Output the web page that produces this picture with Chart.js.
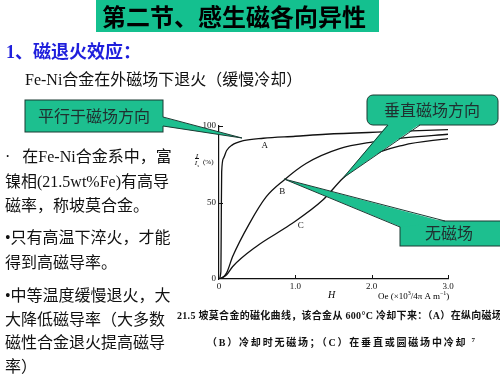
<!DOCTYPE html>
<html>
<head>
<meta charset="utf-8">
<script src="https://cdn.jsdelivr.net/npm/chart.js@4.4.0/dist/chart.umd.min.js"></script>
<style>
  body { margin:0; background:#fff; width:500px; height:375px; overflow:hidden; position:relative;
         font-family:"Liberation Serif","Noto Sans CJK SC",serif; }
  #chart { position:absolute; left:0; top:0; }
  .t { position:absolute; white-space:nowrap; line-height:1; }
  .body { font-size:16px; color:#111; }
  .cap { font-size:10px; font-weight:bold; color:#111; }
  svg { position:absolute; left:0; top:0; }
</style>
</head>
<body>
<canvas id="chart" width="500" height="375"></canvas>

<div class="t" style="left:96px;top:0;width:283px;height:32px;background:#14c08f"></div>
<div class="t" style="left:102px;top:4px;font-size:24px;font-weight:bold;font-family:'Noto Sans CJK SC';color:#000">第二节、感生磁各向异性</div>
<div class="t" style="left:6px;top:43px;font-size:18px;font-weight:bold;color:#1f1fdc">1、磁退火效应：</div>
<div class="t body" style="left:25px;top:72px">Fe-Ni合金在外磁场下退火（缓慢冷却）</div>

<div class="t body" style="left:5px;top:149px">·&nbsp;&nbsp;&nbsp;在Fe-Ni合金系中，富</div>
<div class="t body" style="left:5px;top:174px">镍相(21.5wt%Fe)有高导</div>
<div class="t body" style="left:5px;top:198px">磁率，称坡莫合金。</div>
<div class="t body" style="left:5px;top:230px">•只有高温下淬火，才能</div>
<div class="t body" style="left:5px;top:255px">得到高磁导率。</div>
<div class="t body" style="left:5px;top:288px">•中等温度缓慢退火，大</div>
<div class="t body" style="left:5px;top:312px">大降低磁导率（大多数</div>
<div class="t body" style="left:5px;top:335px">磁性合金退火提高磁导</div>
<div class="t body" style="left:5px;top:359px">率）</div>

<div class="t cap" style="left:177px;top:311px;letter-spacing:0.3px">21.5 坡莫合金的磁化曲线，该合金从 600°C 冷却下来：（A）在纵向磁场中</div>
<div class="t cap" style="left:207px;top:337px;letter-spacing:1.8px">（B）冷却时无磁场；（C）在垂直或圆磁场中冷却 <sup style="font-size:7px">7</sup></div>

<div class="t" style="left:193px;top:153px;font-size:7px;font-style:italic;text-align:center;width:8px">I<br><span style="border-top:1px solid #111">I<sub style="font-size:5px">s</sub></span></div>
<div class="t" style="left:203px;top:159px;font-size:7px">(%)</div>
<div class="t" style="left:328px;top:290px;font-size:10px;font-style:italic">H</div>
<div class="t" style="left:378px;top:290px;font-size:9px">Oe (×10<sup style="font-size:6px">3</sup>/4π A m<sup style="font-size:6px">−1</sup>)</div>

<svg width="500" height="375">
  <rect x="25" y="100" width="138" height="32" fill="#1dbf8f" stroke="#1b3b33" stroke-width="1"/>
  <polygon points="162,117 242,138 162,126" fill="#1dbf8f"/>
  <polyline points="163,117 242,138 163,126" fill="none" stroke="#1b3b33" stroke-width="1"/>
  <text x="94" y="122" font-size="16" text-anchor="middle" fill="#203030" font-family="Noto Sans CJK SC">平行于磁场方向</text>

  <rect x="367" y="95" width="131" height="30" rx="6" fill="#1dbf8f" stroke="#1b3b33" stroke-width="1"/>
  <polygon points="388,124 343,178 420,124" fill="#1dbf8f"/>
  <polyline points="388,125 343,178 420,125" fill="none" stroke="#1b3b33" stroke-width="1"/>
  <text x="432" y="116" font-size="16" text-anchor="middle" fill="#203030" font-family="Noto Sans CJK SC">垂直磁场方向</text>

  <rect x="400" y="221" width="101" height="25" fill="#1dbf8f" stroke="#1b3b33" stroke-width="1"/>
  <polygon points="445,222 284,179 401,227" fill="#1dbf8f"/>
  <polyline points="445,221 284,179 400,227" fill="none" stroke="#1b3b33" stroke-width="1"/>
  <text x="449" y="239" font-size="16" text-anchor="middle" fill="#203030" font-family="Noto Sans CJK SC">无磁场</text>
</svg>

<script>
// curve A: annealed in longitudinal field
const curveA = [
  {x:0,y:0},{x:0.025,y:5},{x:0.03,y:40},{x:0.035,y:70},{x:0.06,y:79},{x:0.1,y:84},
  {x:0.17,y:87.5},{x:0.32,y:90.4},{x:0.58,y:92},{x:1.0,y:93.3},{x:1.4,y:94.6},
  {x:2.15,y:96.1},{x:3.0,y:97.6}
];
// curve B: no field
const curveB = [
  {x:0,y:0},{x:0.05,y:1},{x:0.1,y:4},{x:0.18,y:14.8},{x:0.4,y:36.4},{x:0.62,y:53.8},
  {x:0.85,y:64.6},{x:1.14,y:75.5},{x:1.58,y:85.2},{x:2.02,y:89.6},{x:2.45,y:92.4},
  {x:3.0,y:94.6}
];
// curve C: perpendicular / circular field
const curveC = [
  {x:0,y:0},{x:0.1,y:2.8},{x:0.18,y:8.2},{x:0.49,y:21.3},{x:0.93,y:35.4},{x:1.36,y:51.6},
  {x:1.62,y:65.7},{x:1.97,y:79.8},{x:2.41,y:87.4},{x:3.0,y:91.8}
];
const curveNames = ["A", "B", "C"];
const labelPos = [{x:0.6,y:87},{x:0.83,y:57},{x:1.07,y:35}];
const xTicks = [0, 1, 2, 3];
const yTicks = [0, 50, 100];

// inward tick marks + curve letters
const extras = {
  id: "extras",
  afterDraw(chart) {
    const ctx = chart.ctx, xs = chart.scales.x, ys = chart.scales.y;
    ctx.save();
    ctx.strokeStyle = "#111";
    ctx.lineWidth = 1;
    yTicks.forEach(v => {
      if (v === 0) return;
      const p = Math.round(ys.getPixelForValue(v)) + 0.5;
      ctx.beginPath(); ctx.moveTo(xs.left, p); ctx.lineTo(xs.left + 4, p); ctx.stroke();
    });
    xTicks.forEach(v => {
      if (v === 0) return;
      const p = Math.round(xs.getPixelForValue(v)) + 0.5;
      ctx.beginPath(); ctx.moveTo(p, ys.bottom); ctx.lineTo(p, ys.bottom - 4); ctx.stroke();
    });
    ctx.fillStyle = "#111";
    ctx.font = "9px 'Liberation Serif'";
    ctx.textAlign = "center";
    ctx.textBaseline = "middle";
    curveNames.forEach((n, i) => {
      ctx.fillText(n, xs.getPixelForValue(labelPos[i].x), ys.getPixelForValue(labelPos[i].y));
    });
    ctx.restore();
  }
};

const ds = (data) => ({
  data, borderColor:"#111", borderWidth:1.3, pointRadius:0,
  cubicInterpolationMode:"monotone", fill:false
});

new Chart(document.getElementById("chart"), {
  type: "line",
  data: { datasets: [ds(curveA), ds(curveB), ds(curveC)] },
  options: {
    responsive:false, animation:false,
    layout: { padding: { left:179, top:126, right:52, bottom:76 } },
    plugins: { legend:{display:false}, tooltip:{enabled:false} },
    scales: {
      x: {
        type:"linear", min:0, max:3,
        afterBuildTicks: s => { s.ticks = xTicks.map(v => ({value:v})); },
        afterFit: s => { s.height = 20; },
        grid: { display:false, drawTicks:false },
        border: { display:true, color:"#111", width:1.2 },
        ticks: { padding:2, color:"#111", font:{family:"Liberation Serif", size:9},
                 maxRotation:0, callback: v => v === 0 ? "0" : v.toFixed(1) }
      },
      y: {
        min:0, max:100,
        afterBuildTicks: s => { s.ticks = yTicks.map(v => ({value:v})); },
        afterFit: s => { s.width = 40; },
        grid: { display:false, drawTicks:false },
        border: { display:true, color:"#111", width:1.2 },
        ticks: { padding:3, color:"#111", font:{family:"Liberation Serif", size:9} }
      }
    }
  },
  plugins: [extras]
});
</script>
</body>
</html>
